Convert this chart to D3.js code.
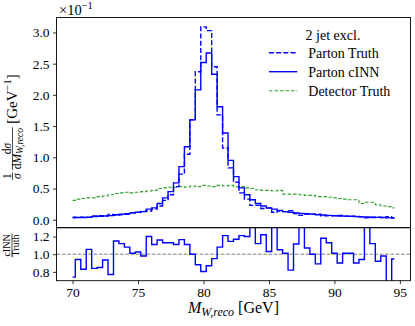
<!DOCTYPE html>
<html><head><meta charset="utf-8">
<script src="https://cdn.jsdelivr.net/npm/d3@7"></script>
<style>
body{margin:0;background:#fff}
svg{display:block}
text{font-family:"Liberation Serif","DejaVu Serif",serif;fill:#000}
</style>
</head><body>
<svg id="c" width="415" height="326"></svg>
<script>
// ---- data ----
const xPoints = [70.000,70.417,70.833,71.250,71.667,72.083,72.500,72.917,73.333,73.750,
74.167,74.583,75.000,75.417,75.833,76.250,76.667,77.083,77.500,77.917,
78.333,78.750,79.167,79.583,80.000,80.417,80.833,81.250,81.667,82.083,
82.500,82.917,83.333,83.750,84.167,84.583,85.000,85.417,85.833,86.250,
86.667,87.083,87.500,87.917,88.333,88.750,89.167,89.583,90.000,90.417,
90.833,91.250,91.667,92.083,92.500,92.917,93.333,93.750,94.167,94.583];
const partonTruth = [0.040,0.037,0.042,0.038,0.060,0.065,0.064,0.084,0.070,0.080,
0.088,0.109,0.117,0.133,0.140,0.170,0.220,0.310,0.400,0.530,
0.730,1.050,1.600,2.370,3.090,3.030,2.450,1.680,1.150,0.830,
0.600,0.430,0.330,0.230,0.230,0.180,0.185,0.120,0.140,0.130,
0.145,0.100,0.070,0.089,0.090,0.090,0.064,0.062,0.064,0.067,
0.057,0.054,0.056,0.048,0.030,0.036,0.040,0.036,0.050,0.030];
const partonCINN = [0.030,0.035,0.035,0.040,0.050,0.055,0.060,0.065,0.080,0.090,
0.095,0.110,0.120,0.130,0.170,0.190,0.260,0.350,0.450,0.590,
0.850,1.170,1.600,2.080,2.520,2.670,2.330,1.810,1.390,0.950,
0.690,0.510,0.400,0.320,0.260,0.220,0.190,0.170,0.150,0.130,
0.120,0.110,0.100,0.095,0.090,0.080,0.075,0.070,0.065,0.060,
0.058,0.055,0.050,0.045,0.043,0.040,0.037,0.035,0.030,0.028];
const detectorTruth = [0.31,0.33,0.34,0.35,0.35,0.37,0.38,0.40,0.42,0.43,
0.44,0.43,0.44,0.45,0.46,0.47,0.50,0.51,0.52,0.52,
0.53,0.52,0.54,0.53,0.55,0.54,0.53,0.55,0.54,0.55,
0.53,0.53,0.51,0.50,0.48,0.47,0.47,0.46,0.47,0.41,
0.41,0.41,0.40,0.39,0.39,0.37,0.37,0.36,0.35,0.34,
0.33,0.32,0.32,0.26,0.28,0.28,0.24,0.22,0.21,0.19];
const ratioCINNTruth = [0.74,0.94,0.83,1.055,0.84,0.85,0.935,0.77,1.15,1.12,
1.08,1.01,1.025,0.98,1.20,1.11,1.16,1.13,1.13,1.11,
1.165,1.11,1.00,0.88,0.805,0.87,0.95,1.08,1.21,1.145,
1.17,1.21,1.20,1.40,1.12,1.22,1.03,1.40,1.05,1.01,
0.82,1.115,1.40,1.07,1.00,0.89,1.18,1.13,1.01,0.90,
1.01,1.01,0.90,0.94,1.40,1.12,0.92,0.98,0.60,0.945];
const mainYTicks = [0.0,0.5,1.0,1.5,2.0,2.5,3.0];
const ratioYTicks = [0.8,1.0,1.2];
const xTicks = [70,75,80,85,90,95];
const legendTitle = "2 jet excl.";
const seriesNames = ["Parton Truth","Parton cINN","Detector Truth"];
const seriesColors = ["#0000ff","#0000ff","#2ca02c"];
const seriesDash = ["5,2.2",null,"3.5,2"];
const seriesWidth = [1.4,1.4,1.1];

// ---- layout ----
const L=56.5,R=410.5,T=17.5,MB=227.7,RB=280.7;
const svg=d3.select("#c");
const x=d3.scaleLinear().domain([68.771,95.812]).range([L,R]);
const y=d3.scaleLinear().domain([-0.128,3.24]).range([MB,T]);
const yr=d3.scaleLinear().domain([0.7,1.3]).range([RB,MB]);

const defs=svg.append("defs");
defs.append("clipPath").attr("id","cm").append("rect").attr("x",L).attr("y",T).attr("width",R-L).attr("height",MB-T);
defs.append("clipPath").attr("id","cr").append("rect").attr("x",L).attr("y",MB).attr("width",R-L).attr("height",RB-MB);

const seriesData=[partonTruth,partonCINN,detectorTruth];
const line=d3.line().curve(d3.curveStep);
const gm=svg.append("g").attr("clip-path","url(#cm)");
[2,0,1].forEach(k=>{
  const pts=xPoints.map((xv,i)=>[x(xv),y(seriesData[k][i])]);
  gm.append("path").attr("d",line(pts)).attr("fill","none")
    .attr("stroke",seriesColors[k]).attr("stroke-width",seriesWidth[k])
    .attr("stroke-dasharray",seriesDash[k]);
});

// ratio
const gr=svg.append("g").attr("clip-path","url(#cr)");
gr.append("line").attr("x1",L).attr("x2",R).attr("y1",yr(1)).attr("y2",yr(1))
  .attr("stroke","#808080").attr("stroke-width",1).attr("stroke-dasharray","3.7,1.6");
gr.append("path").attr("d",line(xPoints.map((xv,i)=>[x(xv),yr(ratioCINNTruth[i])])))
  .attr("fill","none").attr("stroke","#0000ff").attr("stroke-width",1.4);

// frames
svg.append("rect").attr("x",L).attr("y",T).attr("width",R-L).attr("height",MB-T)
  .attr("fill","none").attr("stroke","#000").attr("stroke-width",0.9);
svg.append("rect").attr("x",L).attr("y",MB).attr("width",R-L).attr("height",RB-MB)
  .attr("fill","none").attr("stroke","#000").attr("stroke-width",0.9);

function styleAxis(g){
  g.attr("font-family",null);
  g.select(".domain").remove();
  g.selectAll(".tick line").attr("stroke","#000").attr("stroke-width",0.8);
  g.selectAll(".tick text").attr("font-size",13.5).attr("font-family","Liberation Serif");
}
svg.append("g").attr("transform",`translate(${L},0)`)
  .call(d3.axisLeft(y).tickValues(mainYTicks).tickSize(3.5).tickPadding(3.5).tickFormat(d3.format(".1f")))
  .call(styleAxis);
svg.append("g").attr("transform",`translate(${L},0)`)
  .call(d3.axisLeft(yr).tickValues(ratioYTicks).tickSize(3.5).tickPadding(3.5).tickFormat(d3.format(".1f")))
  .call(styleAxis);
svg.append("g").attr("transform",`translate(0,${RB})`)
  .call(d3.axisBottom(x).tickValues(xTicks).tickSize(3.5).tickPadding(3.5).tickFormat(d3.format("d")))
  .call(styleAxis);

// offset text
const off=svg.append("text").attr("x",L+2.5).attr("y",15).attr("font-size",14.5);
off.append("tspan").text("×10");
off.append("tspan").attr("dy",-6).attr("font-size",10.5).text("−1");

// legend
const lx0=269,lx1=297.3,tx=308.3;
svg.append("text").attr("x",333).attr("y",40).attr("text-anchor","middle").attr("font-size",14).text(legendTitle);
[0,1,2].forEach((k,j)=>{
  const ly=52.7+j*19;
  svg.append("line").attr("x1",lx0).attr("x2",lx1).attr("y1",ly).attr("y2",ly)
    .attr("stroke",seriesColors[k]).attr("stroke-width",seriesWidth[k]).attr("stroke-dasharray",seriesDash[k]);
  svg.append("text").attr("x",tx).attr("y",ly+5).attr("font-size",14).text(seriesNames[k]);
});

// x label
const xl=svg.append("text").attr("x",(L+R)/2).attr("y",313).attr("text-anchor","middle").attr("font-size",16);
xl.append("tspan").attr("font-style","italic").text("M");
xl.append("tspan").attr("font-style","italic").attr("font-size",12).attr("dy",3).text("W,reco");
xl.append("tspan").attr("dy",-3).text(" [GeV]");

// fraction helper (rotated frames: local x runs up the page); returns width
function frac(g,x0,num,den,fs){
  const gn=g.append("text").attr("font-size",fs).attr("text-anchor","middle").attr("y",-1.8);
  num.forEach(p=>gn.append("tspan").attr("font-style",p[1]?"italic":"normal").attr("font-size",p[2]||fs).attr("dy",p[3]||0).text(p[0]));
  const gd=g.append("text").attr("font-size",fs).attr("text-anchor","middle").attr("y",fs*0.72);
  den.forEach(p=>gd.append("tspan").attr("font-style",p[1]?"italic":"normal").attr("font-size",p[2]||fs).attr("dy",p[3]||0).text(p[0]));
  const w=Math.max(gn.node().getComputedTextLength(),gd.node().getComputedTextLength())+1.5;
  gn.attr("x",x0+w/2); gd.attr("x",x0+w/2);
  g.append("line").attr("x1",x0).attr("x2",x0+w).attr("y1",0).attr("y2",0).attr("stroke","#000").attr("stroke-width",0.7);
  return w;
}
// main y label: laid out in sequence, then centred on the main panel
const yl=svg.append("g");
let cx=0;
cx+=frac(yl,cx,[["1",false]],[["σ",true]],11.5)+2.5;
cx+=frac(yl,cx,[["d",false],["σ",true]],[["d",false],["M",true],["W,reco",true,9.5,2]],11.5)+3.5;
const gl=yl.append("text").attr("x",cx).attr("y",4.8).attr("font-size",15);
gl.append("tspan").text("[GeV");
gl.append("tspan").attr("font-size",10.5).attr("dy",-6).text("−1");
gl.append("tspan").attr("dy",6).text("]");
const total=cx+gl.node().getComputedTextLength();
yl.attr("transform",`translate(12.5,${127+total/2}) rotate(-90)`);

// ratio y label
const rl=svg.append("g");
const rw=frac(rl,0,[["cINN",false]],[["Truth",false]],10);
rl.attr("transform",`translate(12,${245.5+rw/2}) rotate(-90)`);
</script>
</body></html>
